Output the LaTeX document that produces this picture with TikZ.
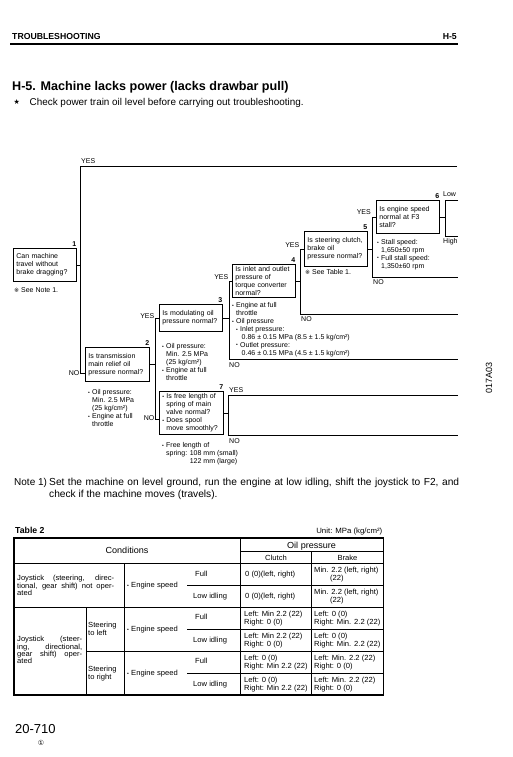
\documentclass[tikz,border=0pt]{standalone}
\usepackage{fontspec}
\setmainfont{Liberation Sans}
\newfontfamily\symfont{DejaVu Sans}
\newfontfamily\tabfam[FakeStretch=1.03]{Liberation Sans}
\newcommand\dfont{\fontsize{7}{7.9}\selectfont}
\newcommand\nfont{\fontsize{7}{8}\selectfont\bfseries}
\newcommand\tfont{\tabfam\fontsize{7.4}{7.3}\selectfont}
\newcommand\thfont{\tabfam\fontsize{8.8}{10}\selectfont}
\newcommand\refm{{\symfont\fontsize{6}{6}\selectfont ※}}
\newcommand\bul{\makebox[4pt][l]{\raisebox{0.3pt}{\fontsize{5}{5}\selectfont •}}}
\newcommand\ind{\hspace*{4pt}}
\begin{document}
\begin{tikzpicture}[x=1pt,y=-1pt]
\tikzset{
  ln/.style={line width=0.85pt},
  dbox/.style={draw, line width=0.85pt, anchor=north west, inner xsep=3pt, inner ysep=1pt, align=left, font=\dfont},
  lbl/.style={font=\dfont, anchor=base west, inner sep=0pt},
  lblr/.style={font=\dfont, anchor=base east, inner sep=0pt},
  num/.style={font=\nfont, anchor=base east, inner sep=0pt},
  blk/.style={font=\dfont, anchor=north west, align=left, inner sep=0pt},
  tb/.style={font=\tfont, anchor=north west, align=left, inner sep=0pt},
  tw/.style={font=\tfont, anchor=base west, inner sep=0pt},
  th/.style={font=\thfont, anchor=base, inner sep=0pt},
  tline/.style={line width=0.7pt},
  tframe/.style={line width=1.1pt},
}
\useasboundingbox[fill=white] (0,0) rectangle (513,757);

% header
\node[anchor=base west, inner sep=0pt, font=\fontsize{8.7}{10}\selectfont\bfseries] (hdr) at (12,40) {TROUBLESHOOTING};
\node[anchor=base east, inner sep=0pt, font=\fontsize{8.7}{10}\selectfont\bfseries] (hdrr) at (457,40) {H-5};
\coordinate (hl) at (10,44); \coordinate (hr) at (458,44);
\draw[line width=1.2pt] (hl) -- (hr);

\node[anchor=base west, inner sep=0pt, font=\fontsize{12.6}{14}\selectfont\bfseries] (title) at (12,90.5) {H-5. Machine lacks power (lacks drawbar pull)};
\node[anchor=base west, inner sep=0pt, font=\symfont\fontsize{7}{8}\selectfont] (star) at (13.5,105) {★};
\node[anchor=base west, inner sep=0pt, font=\fontsize{9.9}{12}\selectfont] (chk) at (29.5,105.5) {Check power train oil level before carrying out troubleshooting.};

% boxes
\node[dbox, text width=57pt, minimum height=33pt] (b1) at (13,248) {Can machine\\travel without\\brake dragging?};
\node[dbox, text width=58pt, minimum height=34pt] (b2) at (85,347) {Is transmission\\main relief oil\\pressure normal?};
\node[dbox, text width=57pt, minimum height=27pt] (b3) at (159,304) {Is modulating oil\\pressure normal?};
\node[dbox, text width=57pt, minimum height=33pt] (b4) at (232,264) {Is inlet and outlet\\pressure of\\torque converter\\normal?};
\node[dbox, text width=57pt, minimum height=35pt] (b5) at (304,231) {Is steering clutch,\\brake oil\\pressure normal?};
\node[dbox, text width=57pt, minimum height=33pt] (b6) at (376,200) {Is engine speed\\normal at F3\\stall?};
\node[dbox, text width=58pt, minimum height=43pt] (b7) at (159,391) {\bul Is free length of\\\ind spring of main\\\ind valve normal?\\\bul Does spool\\\ind move smoothly?};

% numbers
\node[num] (n1) at ([xshift=-0.5pt,yshift=1.8pt]b1.north east) {1};
\node[num] (n2) at ([xshift=-0.5pt,yshift=1.8pt]b2.north east) {2};
\node[num] (n3) at ([xshift=-0.5pt,yshift=1.8pt]b3.north east) {3};
\node[num] (n4) at ([xshift=-0.5pt,yshift=1.8pt]b4.north east) {4};
\node[num] (n5) at ([xshift=-0.5pt,yshift=1.8pt]b5.north east) {5};
\node[num] (n6) at ([xshift=-0.5pt,yshift=1.8pt]b6.north east) {6};
\node[num] (n7) at ([xshift=-0.5pt,yshift=1.8pt]b7.north east) {7};

% connectors
\coordinate (v1t) at (80,166); \coordinate (e1) at (457,166); \coordinate (v1b) at (80,373);
\draw[ln] (e1) -- (v1t) -- (v1b) -- (v1b -| b2.west);
\draw[ln] (b1.east) -- (b1.east -| v1t);

\coordinate (v2t) at (155,317.5); \coordinate (v2b) at (155,419);
\draw[ln] (b2.east) -- (b2.east -| v2t);
\draw[ln] (b3.west) -- (b3.west -| v2t) -- (v2b) -- (v2b -| b7.west);

\coordinate (v3b) at (229,359); \coordinate (e3) at (458,359);
\draw[ln] (b3.east) -- (b3.east -| v3b);
\draw[ln] (b4.west) -- (b4.west -| v3b) -- (v3b) -- (e3);

\coordinate (v4b) at (300,314); \coordinate (e4) at (458,314);
\draw[ln] (b4.east) -- (b4.east -| v4b);
\draw[ln] (b5.west) -- (b5.west -| v4b) -- (v4b) -- (e4);

\coordinate (v5b) at (372,277); \coordinate (e5) at (458,277);
\draw[ln] (b5.east) -- (b5.east -| v5b);
\draw[ln] (b6.west) -- (b6.west -| v5b) -- (v5b) -- (e5);

\coordinate (v6t) at (445,200); \coordinate (v6b) at (445,236);
\coordinate (e6t) at (458,200); \coordinate (e6b) at (458,236);
\draw[ln] (b6.east) -- (b6.east -| v6t);
\draw[ln] (e6t) -- (v6t) -- (v6b) -- (e6b);

\coordinate (v7t) at (228,395); \coordinate (v7b) at (228,435);
\coordinate (e7t) at (458,395); \coordinate (e7b) at (458,435);
\draw[ln] (b7.east) -- (b7.east -| v7t);
\draw[ln] (e7t) -- (v7t) -- (v7b) -- (e7b);

% yes / no labels
\node[lbl] (y1) at (81,163) {YES};
\node[lblr] (y6) at (371,214.5) {YES};
\node[lblr] (y5) at (299.5,247) {YES};
\node[lblr] (y4) at (228.5,279.5) {YES};
\node[lblr] (y3) at (154.5,318) {YES};
\node[lbl] (y7) at (229,392.5) {YES};
\node[lbl] (no5) at (373,284.5) {NO};
\node[lbl] (no4) at (301,321) {NO};
\node[lbl] (no3) at (229,367.5) {NO};
\node[lbl] (no7) at (229,443) {NO};
\node[lblr] (no1) at (79.5,375.5) {NO};
\node[lblr] (no2) at (154.5,420) {NO};
\node[lbl] (low) at (443,196.5) {Low};
\node[lbl] (high) at (443,243.5) {High};

% notes under boxes
\node[blk] (u1) at (14,287.4) {\refm\ See Note 1.};
\node[blk] (u5) at (305,269.4) {\refm\ See Table 1.};
\node[blk] (u6) at (377,239.1) {\bul Stall speed:\\\ind 1,650±50 rpm\\\bul Full stall speed:\\\ind 1,350±60 rpm};
\node[blk] (u4) at (232,302.4) {\bul Engine at full\\\ind throttle\\\bul Oil pressure\\\ind\bul Inlet pressure:\\\hspace*{9.5pt}0.86 ± 0.15 MPa (8.5 ± 1.5 kg/cm²)\\\ind\bul Outlet pressure:\\\hspace*{9.5pt}0.46 ± 0.15 MPa (4.5 ± 1.5 kg/cm²)};
\node[blk] (u3) at (162,343.4) {\bul Oil pressure:\\\ind Min. 2.5 MPa\\\ind (25 kg/cm²)\\\bul Engine at full\\\ind throttle};
\node[blk] (u2) at (88,389.4) {\bul Oil pressure:\\\ind Min. 2.5 MPa\\\ind (25 kg/cm²)\\\bul Engine at full\\\ind throttle};
\node[blk] (u7) at (162,442.4) {\bul Free length of\\\ind spring: 108 mm (small)\\\ind\phantom{spring: }122 mm (large)};

\node[anchor=center, inner sep=0pt, rotate=90, font=\fontsize{9}{10}\selectfont] (code) at (489,378) {017A03};

% Note 1
\node[anchor=base west, inner sep=0pt, font=\fontsize{10}{11}\selectfont] (note) at (14,485.7) {Note 1)};
\node[anchor=base west, inner sep=0pt, font=\fontsize{10.2}{11}\selectfont] (notea) at (49,485.7) {\makebox[410pt][s]{Set the machine on level ground, run the engine at low idling, shift the joystick to F2, and}};
\node[anchor=base west, inner sep=0pt, font=\fontsize{10.2}{11}\selectfont] (noteb) at (49,497) {check if the machine moves (travels).};

% Table 2
\node[anchor=base west, inner sep=0pt, font=\fontsize{8.7}{10}\selectfont\bfseries] (tab) at (15,533) {Table 2};
\node[anchor=base east, inner sep=0pt, font=\tabfam\fontsize{7.6}{9}\selectfont] (unit) at (382.5,533) {Unit: MPa (kg/cm²)};

\coordinate (tl) at (14,538); \coordinate (br) at (383.3,695);
\draw[tframe] (tl) rectangle (br);
\draw[tline] (240,538) -- (240,695);
\draw[tline] (311.7,551.7) -- (311.7,695);
\draw[tline] (124.3,563) -- (124.3,695);
\draw[tline] (86.7,607) -- (86.7,695);
\draw[tline] (240,551.7) -- (383.3,551.7);
\draw[tline] (14,563) -- (383.3,563);
\draw[tline] (14,607) -- (383.3,607);
\draw[tline] (86.7,651) -- (383.3,651);
\draw[tline] (187,585) -- (383.3,585);
\draw[tline] (187,629) -- (383.3,629);
\draw[tline] (187,673) -- (383.3,673);

\node[th] (tcond) at (127,553.6) {Conditions};
\node[th] (toil) at (311.6,548.3) {Oil pressure};
\node[th, font=\tfont] (tclu) at (276,560.2) {Clutch};
\node[th, font=\tfont] (tbra) at (347.5,560.2) {Brake};

\node[tb] (tj1) at (17,575.2) {\makebox[97pt][s]{Joystick (steering, direc-}\\\makebox[97pt][s]{tional, gear shift) not oper-}\\ated};
\node[tw] (te1) at (127,587.7) {\bul Engine speed};
\node[tw] (tf1) at (195,576.7) {Full};
\node[tw] (tl1) at (193,598.7) {Low idling};
\node[tw] (tc1) at (245,576.7) {0 (0)(left, right)};
\node[tw] (tc2) at (245,598.7) {0 (0)(left, right)};
\node[tb] (tb1) at (314,567.2) {Min. 2.2 (left, right)\\\hspace*{16pt}(22)};
\node[tb] (tb2) at (314,589.2) {Min. 2.2 (left, right)\\\hspace*{16pt}(22)};

\node[tb] (tj2) at (17,636.2) {\makebox[65pt][s]{Joystick (steer-}\\\makebox[65pt][s]{ing, directional,}\\\makebox[65pt][s]{gear shift) oper-}\\ated};
\node[tb] (ts1) at (88,622.2) {Steering\\to left};
\node[tb] (ts2) at (88,666.2) {Steering\\to right};
\node[tw] (te2) at (127,631.7) {\bul Engine speed};
\node[tw] (te3) at (127,675.7) {\bul Engine speed};
\node[tw] (tf3) at (195,619.7) {Full};
\node[tw] (tl4) at (193,642.7) {Low idling};
\node[tw] (tf5) at (195,663.7) {Full};
\node[tw] (tl6) at (193,686.7) {Low idling};

\node[tb] (tc3) at (244,611.2) {Left: Min 2.2 (22)\\Right: 0 (0)};
\node[tb] (tb3) at (314,611.2) {Left: 0 (0)\\Right: Min. 2.2 (22)};
\node[tb] (tc4) at (244,633.2) {Left: Min 2.2 (22)\\Right: 0 (0)};
\node[tb] (tb4) at (314,633.2) {Left: 0 (0)\\Right: Min. 2.2 (22)};
\node[tb] (tc5) at (244,655.2) {Left: 0 (0)\\Right: Min 2.2 (22)};
\node[tb] (tb5) at (314,655.2) {Left: Min. 2.2 (22)\\Right: 0 (0)};
\node[tb] (tc6) at (244,677.2) {Left: 0 (0)\\Right: Min 2.2 (22)};
\node[tb] (tb6) at (314,677.2) {Left: Min. 2.2 (22)\\Right: 0 (0)};

% footer
\node[anchor=base west, inner sep=0pt, font=\fontsize{13}{14}\selectfont] (page) at (15,733) {20-710};
\node[anchor=center, inner sep=0pt, font=\symfont\fontsize{7}{8}\selectfont] (rev) at (41,743) {①};
\end{tikzpicture}
\end{document}
